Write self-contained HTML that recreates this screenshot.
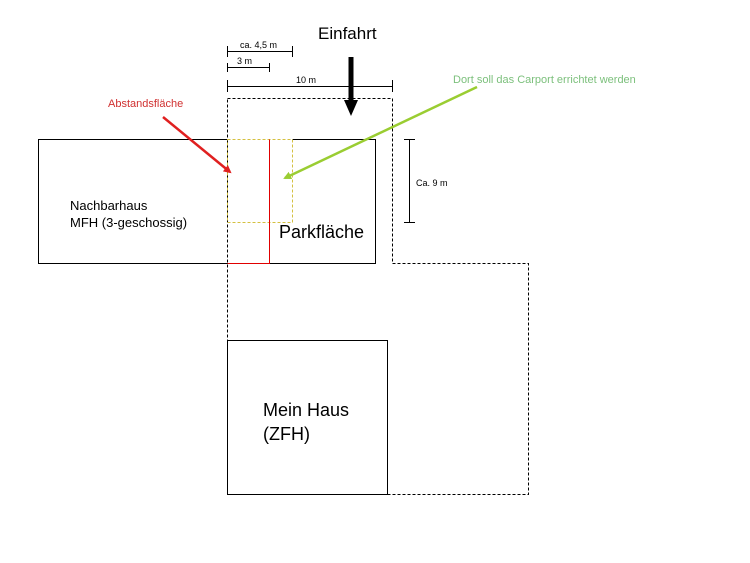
<!DOCTYPE html>
<html><head><meta charset="utf-8"><style>
html,body{margin:0;padding:0;background:#fff;width:750px;height:563px;overflow:hidden}
text{font-family:"Liberation Sans",Arial,sans-serif}
</style></head><body>
<svg width="750" height="563" viewBox="0 0 750 563" xmlns="http://www.w3.org/2000/svg">
<defs>
<marker id="ar" markerWidth="8" markerHeight="8" refX="6" refY="4" orient="auto" markerUnits="userSpaceOnUse"><path d="M0,0 L8,4 L0,8 z" fill="#e02020"/></marker>
<marker id="ag" markerWidth="8" markerHeight="8" refX="6" refY="4" orient="auto" markerUnits="userSpaceOnUse"><path d="M0,0 L8,4 L0,8 z" fill="#9acd32"/></marker>
</defs>
<g stroke="#000" stroke-width="1" fill="none">
<line x1="227.5" y1="51.5" x2="292.5" y2="51.5"/><line x1="227.5" y1="46" x2="227.5" y2="57"/><line x1="292.5" y1="46" x2="292.5" y2="57"/>
<line x1="227.5" y1="67.5" x2="269.5" y2="67.5"/><line x1="227.5" y1="63" x2="227.5" y2="72"/><line x1="269.5" y1="63" x2="269.5" y2="72"/>
<line x1="227.5" y1="86.5" x2="392.5" y2="86.5"/><line x1="227.5" y1="80" x2="227.5" y2="92"/><line x1="392.5" y1="80" x2="392.5" y2="92"/>
<line x1="409.5" y1="139.5" x2="409.5" y2="222.5"/><line x1="404" y1="139.5" x2="415" y2="139.5"/><line x1="404" y1="222.5" x2="415" y2="222.5"/>
<path d="M227.5,139.5 H38.5 V263.5 H227.5"/>
<path d="M292.5,139.5 H375.5 V263.5 H269.5"/>
<rect x="227.5" y="340.5" width="160" height="154"/>
</g>
<path d="M227.5,98.5 H392.5 V263.5 H528.5 V494.5 H227.5 Z" fill="none" stroke="#000" stroke-width="1" stroke-dasharray="3,2"/>
<rect x="227.5" y="139.5" width="65" height="83" fill="none" stroke="#d4c040" stroke-width="1" stroke-dasharray="3,2"/>
<path d="M269.5,139.5 V263.5 H227.5" fill="none" stroke="#e00000" stroke-width="1"/>
<line x1="351" y1="57" x2="351" y2="102" stroke="#000" stroke-width="5"/>
<path d="M344,100 L358,100 L351,116 Z" fill="#000"/>
<line x1="163" y1="117" x2="230" y2="172" stroke="#e02020" stroke-width="2.5" marker-end="url(#ar)"/>
<line x1="477" y1="87" x2="285" y2="178" stroke="#9acd32" stroke-width="2.5" marker-end="url(#ag)"/>
<text x="240" y="48" font-size="9">ca. 4,5 m</text>
<text x="237" y="64" font-size="9">3 m</text>
<text x="296" y="83" font-size="9">10 m</text>
<text x="318" y="39" font-size="17">Einfahrt</text>
<text x="108" y="107" font-size="11" fill="#d03030">Abstandsfläche</text>
<text x="453" y="83" font-size="11" fill="#7cc07c">Dort soll das Carport errichtet werden</text>
<text x="416" y="186" font-size="9">Ca. 9 m</text>
<text x="70" y="210" font-size="13">Nachbarhaus</text>
<text x="70" y="227" font-size="13">MFH (3-geschossig)</text>
<text x="279" y="238" font-size="18">Parkfläche</text>
<text x="263" y="416" font-size="18">Mein Haus</text>
<text x="263" y="440" font-size="18">(ZFH)</text>
</svg>
</body></html>
